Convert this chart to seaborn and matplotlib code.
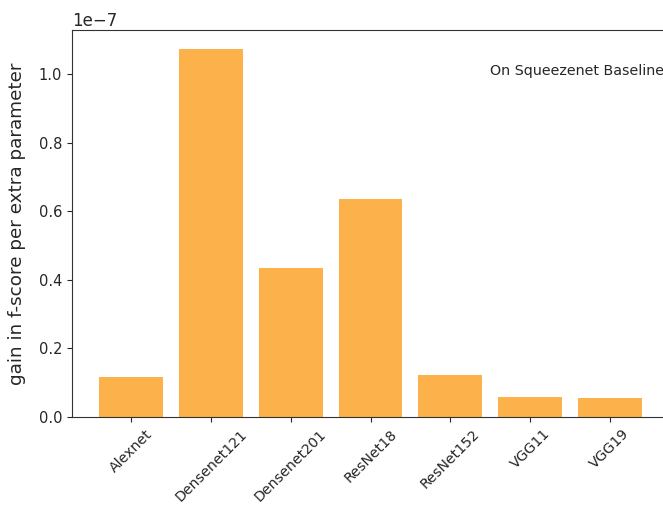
import matplotlib
matplotlib.use("Agg")
import matplotlib.pyplot as plt
import seaborn as sns
import pandas as pd

models = ["Alexnet", "Densenet121", "Densenet201", "ResNet18", "ResNet152", "VGG11", "VGG19"]
gain = [0.118e-7, 1.075e-7, 0.435e-7, 0.635e-7, 0.123e-7, 0.059e-7, 0.054e-7]

df = pd.DataFrame({"model": models, "gain": gain})

sns.set_style("ticks")
plt.rcParams["font.family"] = ["DejaVu Sans"]

fig = plt.figure(figsize=(6.63, 5.05), dpi=100)
ax = fig.add_axes([72 / 663, 88 / 505, 605 / 663, 387 / 505])
sns.barplot(data=df, x="model", y="gain", color="#FDB14B", saturation=1, width=0.8,
            linewidth=0, ax=ax)
ax.set_xlim(-0.74, 6.74 + 8 / 80)
ax.set_ylim(0, 1.129e-7)
ax.set_xlabel("")
ax.set_ylabel("gain in f-score per extra parameter", fontsize=13.2, labelpad=9)
ax.tick_params(axis="y", labelsize=10.5)
ax.tick_params(axis="x", labelsize=10.2, rotation=45)
for lab in ax.get_xticklabels():
    lab.set_ha("center")
ax.yaxis.get_offset_text().set_fontsize(12)
ax.text(4.5, 1.01e-7, "On Squeezenet Baseline", fontsize=10.3, ha="left", va="center")
for s in ax.spines.values():
    s.set_color("#333333")
fig.savefig("out.png", dpi=100)
